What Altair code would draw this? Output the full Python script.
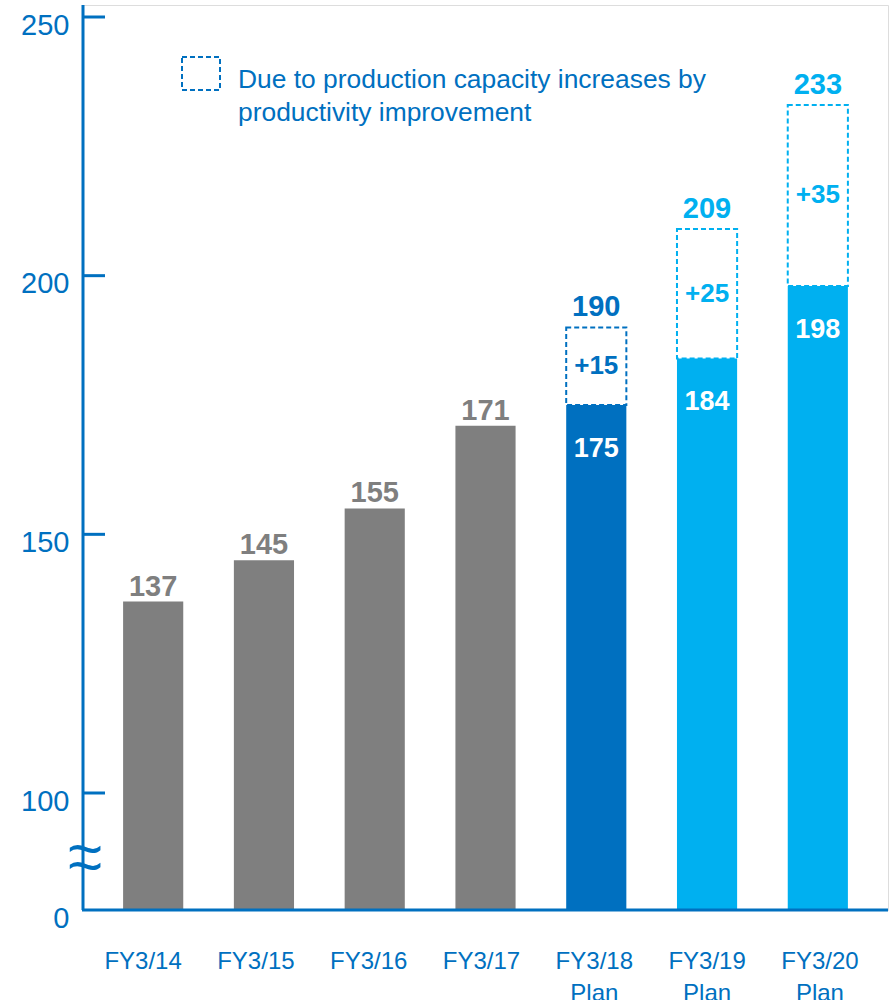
import altair as alt
import pandas as pd

# ---- data ----
categories = ["FY3/14", "FY3/15", "FY3/16", "FY3/17", "FY3/18|Plan", "FY3/19|Plan", "FY3/20|Plan"]
base_values = [137, 145, 155, 171, 175, 184, 198]
total_values = [None, None, None, None, 190, 209, 233]
groups = ["actual", "actual", "actual", "actual", "plan18", "plan19", "plan19"]
y_ticks = [0, 100, 150, 200, 250]
legend_text_str = "Due to production capacity increases by|productivity improvement"

GRAY = "#7F7F7F"
DARK = "#0070C0"
LIGHT = "#00B0F0"
FONT = "Liberation Sans"

W, H = 805, 905

rows = []
for c, b, t, g in zip(categories, base_values, total_values, groups):
    rows.append({"cat": c, "base": b, "total": t, "grp": g,
                 "plus": (f"+{t - b}" if t is not None else None)})
df = pd.DataFrame(rows)
plan = df[df["total"].notna()].copy()
actual = df[df["total"].isna()].copy()

yscale = alt.Scale(domain=[0, 100, 250], range=[H, 788, 12], nice=False, zero=False)
xscale = alt.Scale(domain=categories, paddingInner=0.457, paddingOuter=0.362)
cscale = alt.Scale(domain=["actual", "plan18", "plan19"], range=[GRAY, DARK, LIGHT])

X = alt.X("cat:N", sort=categories, scale=xscale, axis=None)

# dashed boxes (capacity increase)
boxes = alt.Chart(plan).mark_bar(fill="white", strokeDash=[5, 3], strokeWidth=2).encode(
    x=X,
    y=alt.Y("base:Q", scale=yscale,
            axis=alt.Axis(title=None, values=y_ticks, labelFontSize=29, labelColor=DARK,
                          labelFont=FONT, ticks=False, domain=False, grid=False,
                          labelPadding=14, labelOffset=8)),
    y2="total:Q",
    stroke=alt.Color("grp:N", scale=cscale, legend=None),
)

bars = alt.Chart(df).mark_bar().encode(
    x=X,
    y=alt.Y("base:Q", scale=yscale),
    y2=alt.datum(0),
    color=alt.Color("grp:N", scale=cscale, legend=None),
)

actual_labels = alt.Chart(actual).mark_text(
    fontSize=29, fontWeight="bold", font=FONT, color=GRAY, baseline="alphabetic", dy=-6
).encode(x=X, y=alt.Y("base:Q", scale=yscale), text="base:Q")

inner_labels = alt.Chart(plan).mark_text(
    fontSize=27, fontWeight="bold", font=FONT, color="white", baseline="alphabetic", dy=52
).encode(x=X, y=alt.Y("base:Q", scale=yscale), text="base:Q")

total_labels = alt.Chart(plan).mark_text(
    fontSize=29, fontWeight="bold", font=FONT, baseline="alphabetic", dy=-11
).encode(x=X, y=alt.Y("total:Q", scale=yscale), text="total:Q",
         color=alt.Color("grp:N", scale=cscale, legend=None))

plus_labels = alt.Chart(plan).transform_calculate(
    mid="(datum.base + datum.total) / 2"
).mark_text(fontSize=26, fontWeight="bold", font=FONT, baseline="middle").encode(
    x=X, y=alt.Y("mid:Q", scale=yscale), text="plus:N",
    color=alt.Color("grp:N", scale=cscale, legend=None))

# axis lines and inward ticks
one = pd.DataFrame({"k": [0]})
y_axis_line = alt.Chart(one).mark_rule(color=DARK, strokeWidth=3).encode(
    x=alt.value(0), y=alt.value(0), y2=alt.value(H))
x_axis_line = alt.Chart(one).mark_rule(color=DARK, strokeWidth=3).encode(
    x=alt.value(-1), x2=alt.value(W), y=alt.value(H))
tick_df = pd.DataFrame({"v": [t for t in y_ticks if t > 0]})
tick_rules = alt.Chart(tick_df).mark_rule(color=DARK, strokeWidth=3).encode(
    x=alt.value(0), x2=alt.value(22), y=alt.Y("v:Q", scale=yscale))
break_mark = alt.Chart(one).mark_text(
    text="~|~", lineBreak="|", lineHeight=17, fontSize=62, font=FONT, color=DARK,
    baseline="top", align="center"
).encode(x=alt.value(2), y=alt.value(816))

# legend
legend_box = alt.Chart(one).mark_rect(
    fill="white", stroke=DARK, strokeDash=[5, 3], strokeWidth=2
).encode(x=alt.value(99), x2=alt.value(137), y=alt.value(52), y2=alt.value(85))
legend_text = alt.Chart(one).mark_text(
    text=legend_text_str, lineBreak="|", lineHeight=33,
    fontSize=26.4, font=FONT, color=DARK, align="left", baseline="top"
).encode(x=alt.value(155), y=alt.value(62))

main = alt.layer(
    boxes, bars, actual_labels, inner_labels, total_labels, plus_labels,
    y_axis_line, x_axis_line, tick_rules, break_mark, legend_box, legend_text
)

# category labels (their own point scale: spacing in the reference differs slightly from bars)
cat_df = pd.DataFrame({"cat": categories})
cat_labels = alt.Chart(cat_df).mark_text(
    fontSize=24, font=FONT, color=DARK, baseline="top", lineBreak="|", lineHeight=32,
    align="center", dx=-4
).encode(
    x=alt.X("cat:N", sort=categories, axis=None,
            scale=alt.Scale(type="point", domain=categories, padding=0.568)),
    y=alt.value(H + 40),
    text="cat:N",
)

chart = alt.layer(main, cat_labels).resolve_scale(x="independent").properties(
    width=W, height=H,
    padding={"left": 83, "top": 5, "right": 2, "bottom": 90},
    autosize=alt.AutoSizeParams(type="none"),
).configure_view(fill="#F2F2F2", stroke=None).configure(background="white")

chart.save("out.html", embed_options={"renderer": "svg", "actions": False})
